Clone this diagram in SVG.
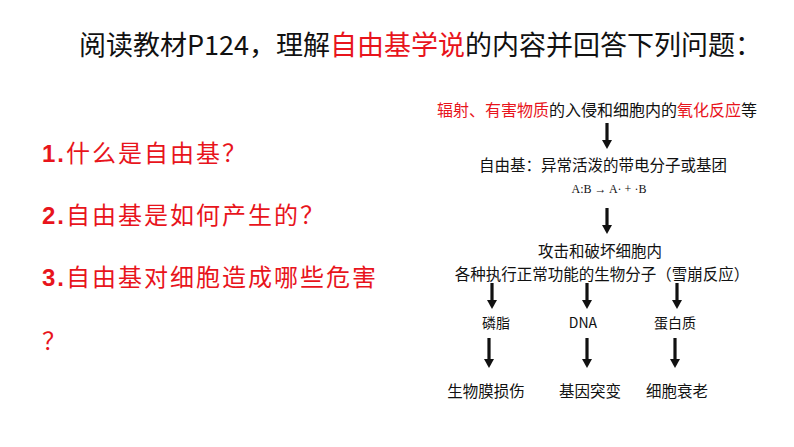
<svg xmlns="http://www.w3.org/2000/svg" width="794" height="447" viewBox="0 0 794 447">
<style>
.cjk{font-family:"Noto Sans CJK SC","Noto Sans",sans-serif;}
.red{fill:#e8141c;}
.blk{fill:#111;}
.title{font-size:27px;}
.q{font-size:24px;letter-spacing:2px;}
.num{font-family:"Liberation Sans",Arial,sans-serif;font-weight:bold;}
.d{font-size:15.5px;text-anchor:middle;fill:#111;}
.s{font-size:14px;text-anchor:middle;fill:#111;}
.arrow{stroke:#111;stroke-width:3.2;fill:none;marker-end:url(#ah);}
</style>
<defs>
<marker id="ah" markerUnits="userSpaceOnUse" markerWidth="10" markerHeight="10" refX="0" refY="5" orient="auto" viewBox="0 0 10 10">
<path d="M0,0 L9,5 L0,10 Z" fill="#111"/>
</marker>
</defs>
<rect width="794" height="447" fill="#fff"/>
<g id="title">
<text class="cjk title blk" x="79" y="55">阅读教材P124，理解<tspan class="red">自由基学说</tspan>的内容并回答下列问题：</text>
</g>
<g id="questions">
<text class="cjk q red" x="42" y="162"><tspan class="num">1.</tspan>什么是自由基？</text>
<text class="cjk q red" x="42" y="224"><tspan class="num">2.</tspan>自由基是如何产生的？</text>
<text class="cjk q red" x="42" y="286"><tspan class="num">3.</tspan>自由基对细胞造成哪些危害</text>
<text class="cjk q red" x="42" y="350">？</text>
</g>
<g id="cause">
<text class="cjk blk" font-size="16" x="437" y="116"><tspan class="red">辐射、有害物质</tspan>的入侵和细胞内的<tspan class="red">氧化反应</tspan>等</text>
</g>
<g id="definition">
<text class="cjk d" x="603" y="171">自由基：异常活泼的带电分子或基团</text>
<text x="609" y="193" font-family="Liberation Serif,serif" font-size="12" text-anchor="middle" fill="#111">A:B → A· + ·B</text>
</g>
<g id="attack">
<text class="cjk d" x="600" y="257">攻击和破坏细胞内</text>
<text class="cjk d" x="602" y="280">各种执行正常功能的生物分子（雪崩反应）</text>
</g>
<g id="lipid"><text class="cjk s" x="496" y="328">磷脂</text></g>
<g id="dna"><text class="cjk s" x="583" y="328">DNA</text></g>
<g id="protein"><text class="cjk s" x="675" y="328">蛋白质</text></g>
<g id="membrane"><text class="cjk d" x="486" y="397">生物膜损伤</text></g>
<g id="mutation"><text class="cjk d" x="590" y="397">基因突变</text></g>
<g id="aging"><text class="cjk d" x="677" y="397">细胞衰老</text></g>
<g id="connectors">
<line class="arrow" x1="607" y1="123" x2="607" y2="140"/>
<line class="arrow" x1="607" y1="208" x2="607" y2="225"/>
<line class="arrow" x1="492" y1="283" x2="492" y2="300"/>
<line class="arrow" x1="587" y1="283" x2="587" y2="300"/>
<line class="arrow" x1="677" y1="283" x2="677" y2="300"/>
<line class="arrow" x1="489" y1="338" x2="489" y2="359"/>
<line class="arrow" x1="587" y1="338" x2="587" y2="359"/>
<line class="arrow" x1="675" y1="338" x2="675" y2="359"/>
</g>
</svg>
